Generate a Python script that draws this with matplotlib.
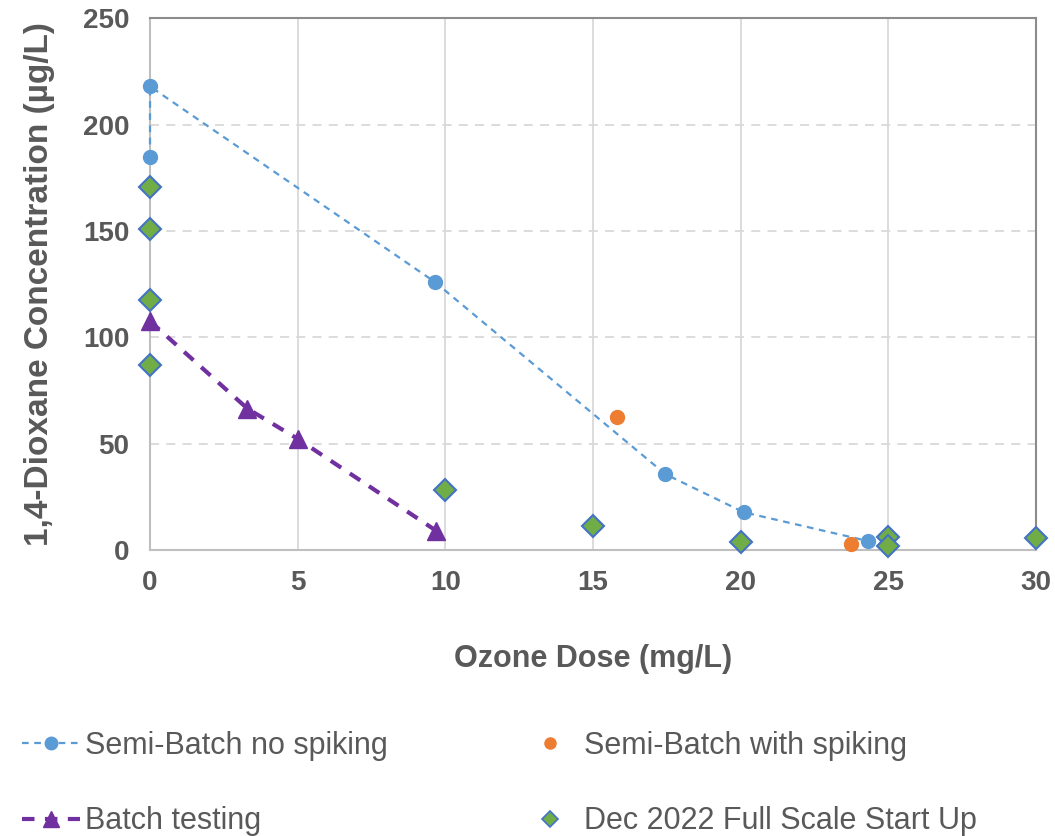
import matplotlib
matplotlib.use("Agg")
import matplotlib.pyplot as plt
from matplotlib.lines import Line2D

plt.rcParams['font.family'] = ['Liberation Sans', 'DejaVu Sans']

# Semi-Batch no spiking
semi_x = [0, 0, 9.65, 17.45, 20.1, 24.3]
semi_y = [185, 218, 126, 35.7, 17.8, 4.3]

# Semi-Batch with spiking
spike_x = [15.8, 23.75]
spike_y = [62.4, 2.8]

# Batch testing
batch_x = [0, 3.3, 5.0, 9.7]
batch_y = [107.6, 66.5, 52.3, 9.0]

# Dec 2022 Full Scale Start Up
full_x = [0, 0, 0, 0, 10, 15, 20, 25, 25, 30]
full_y = [170.6, 150.8, 117.5, 86.9, 28.3, 11.2, 3.9, 6.0, 1.9, 5.6]

gray = "#595959"
blue = "#5b9bd5"
purple = "#7030a0"
orange = "#ed7d31"
green = "#70ad47"
edge = "#4472c4"

fig = plt.figure(figsize=(10.55, 8.36), dpi=100)
ax = fig.add_axes([0.1422, 0.342, 0.8398, 0.636])

ax.set_xlim(0, 30)
ax.set_ylim(0, 250)
ax.set_xticks(range(0, 31, 5))
ax.set_yticks(range(0, 251, 50))

ax.grid(axis='x', color='#d9d9d9', linewidth=1.3, linestyle='-')
ax.grid(axis='y', color='#d9d9d9', linewidth=1.3, linestyle=(0, (5, 4)))
ax.set_axisbelow(True)

for side in ['top', 'right']:
    ax.spines[side].set_color('#8c8c8c')
    ax.spines[side].set_linewidth(1.5)
for side in ['left', 'bottom']:
    ax.spines[side].set_color('#bfbfbf')
    ax.spines[side].set_linewidth(1.5)

ax.tick_params(length=0, labelsize=20, labelcolor=gray)
ax.tick_params(axis='x', pad=14)
ax.tick_params(axis='y', pad=15)
for lab in ax.get_xticklabels() + ax.get_yticklabels():
    lab.set_fontweight('bold')

ax.plot(semi_x, semi_y, color=blue, linestyle=(0, (3, 2.5)), linewidth=1.6,
        marker='o', markersize=10, clip_on=False, zorder=3)
ax.plot(batch_x, batch_y, color=purple, linestyle=(0, (3, 2.5)), linewidth=3,
        marker='^', markersize=13, clip_on=False, zorder=3)
ax.plot(spike_x, spike_y, linestyle='none', color=orange,
        marker='o', markersize=10, clip_on=False, zorder=4)
ax.plot(full_x, full_y, linestyle='none', marker='D', markersize=11,
        markerfacecolor=green, markeredgecolor=edge, markeredgewidth=1.5,
        clip_on=False, zorder=5)

ax.set_xlabel("Ozone Dose (mg/L)", fontsize=22, fontweight='bold', color=gray, labelpad=35)
ax.set_ylabel("1,4-Dioxane Concentration (µg/L)", fontsize=24, fontweight='bold', color=gray, labelpad=20)

handles = [
    Line2D([], [], color=blue, linestyle=(0, (3, 2.5)), linewidth=1.6, marker='o', markersize=9),
    Line2D([], [], color=purple, linestyle=(0, (3, 2.5)), linewidth=3, marker='^', markersize=11),
    Line2D([], [], color=orange, linestyle='none', marker='o', markersize=8),
    Line2D([], [], linestyle='none', marker='D', markersize=8, markerfacecolor=green,
           markeredgecolor=edge, markeredgewidth=1.2),
]
labels = ["Semi-Batch no spiking", "Batch testing", "Semi-Batch with spiking",
          "Dec 2022 Full Scale Start Up"]
fig.legend(handles, labels, ncol=2, loc='upper left', bbox_to_anchor=(22 / 1055, 0.126),
           frameon=False, fontsize=22, labelcolor=gray, handlelength=1.9,
           handletextpad=0.16, columnspacing=4.36, labelspacing=1.5,
           borderpad=0, borderaxespad=0)

fig.savefig("out.png", dpi=100)
